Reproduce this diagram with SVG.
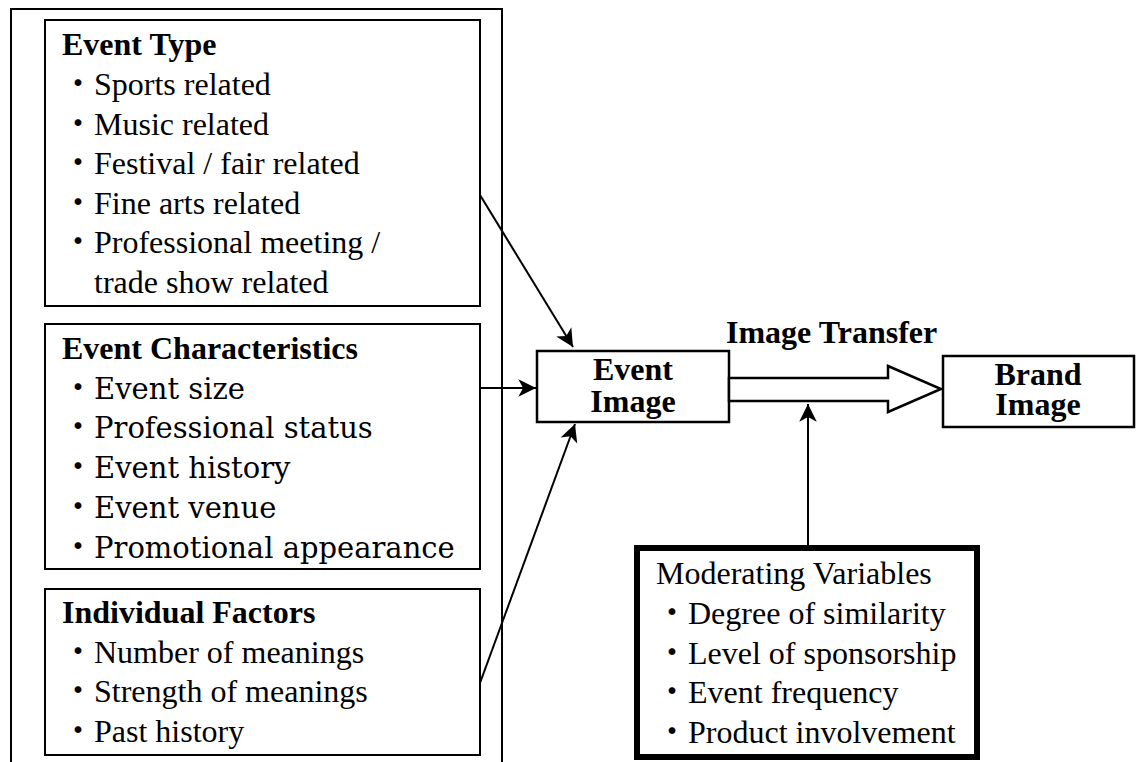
<svg xmlns="http://www.w3.org/2000/svg" width="1140" height="762" viewBox="0 0 1140 762">
<style>
  .box { fill: #fff; stroke: #000; stroke-width: 2; }
  .conn { fill: none; stroke: #000; stroke-width: 2; }
  .h { font-family: "Liberation Serif", "Times New Roman", serif; font-weight: bold; font-size: 32px; fill: #000; }
  .t { font-family: "Liberation Serif", "Times New Roman", serif; font-size: 32px; fill: #000; }
  .c { font-family: "DejaVu Serif", serif; font-size: 29px; fill: #000; }
  .dot { font-family: "Noto Sans CJK JP", sans-serif; font-size: 32px; }
  .mid { text-anchor: middle; }
</style>
<defs>
  <marker id="ah" markerUnits="userSpaceOnUse" markerWidth="20" markerHeight="20" viewBox="-16 -8 17 16" refX="0" refY="0" orient="auto">
    <path d="M0,0 L-15,-7.5 L-11,0 L-15,7.5 Z" fill="#000"/>
  </marker>
</defs>
<rect width="1140" height="762" fill="#fff"/>

<g id="outer">
  <rect class="box" x="11" y="9" width="491" height="800"/>
</g>

<g id="event-type">
  <rect class="box" x="45" y="20" width="435" height="286"/>
  <text class="h" x="62" y="55">Event Type</text>
  <text class="t" x="62" y="95"><tspan class="dot">・</tspan><tspan x="94">Sports related</tspan></text>
  <text class="t" x="62" y="135"><tspan class="dot">・</tspan><tspan x="94">Music related</tspan></text>
  <text class="t" x="62" y="174"><tspan class="dot">・</tspan><tspan x="94">Festival / fair related</tspan></text>
  <text class="t" x="62" y="214"><tspan class="dot">・</tspan><tspan x="94">Fine arts related</tspan></text>
  <text class="t" x="62" y="253"><tspan class="dot">・</tspan><tspan x="94">Professional meeting /</tspan></text>
  <text class="t" x="94" y="293">trade show related</text>
</g>

<g id="event-characteristics">
  <rect class="box" x="45" y="324" width="435" height="245"/>
  <text class="h" x="62" y="359">Event Characteristics</text>
  <text class="c" x="62" y="399"><tspan class="dot">・</tspan><tspan x="94">Event size</tspan></text>
  <text class="c" x="62" y="438"><tspan class="dot">・</tspan><tspan x="94">Professional status</tspan></text>
  <text class="c" x="62" y="478"><tspan class="dot">・</tspan><tspan x="94">Event history</tspan></text>
  <text class="c" x="62" y="518"><tspan class="dot">・</tspan><tspan x="94">Event venue</tspan></text>
  <text class="c" x="62" y="558"><tspan class="dot">・</tspan><tspan x="94">Promotional appearance</tspan></text>
</g>

<g id="individual-factors">
  <rect class="box" x="45" y="589" width="435" height="166"/>
  <text class="h" x="62" y="623">Individual Factors</text>
  <text class="t" x="62" y="663"><tspan class="dot">・</tspan><tspan x="94">Number of meanings</tspan></text>
  <text class="t" x="62" y="702"><tspan class="dot">・</tspan><tspan x="94">Strength of meanings</tspan></text>
  <text class="t" x="62" y="742"><tspan class="dot">・</tspan><tspan x="94">Past history</tspan></text>
</g>

<g id="event-image">
  <rect class="box" x="537" y="351" width="192" height="71" style="stroke-width:2.5"/>
  <text class="h mid" x="633" y="380">Event</text>
  <text class="h mid" x="633" y="412">Image</text>
</g>

<g id="brand-image">
  <rect class="box" x="943" y="356" width="191" height="71" style="stroke-width:2.5"/>
  <text class="h mid" x="1038" y="385">Brand</text>
  <text class="h mid" x="1038" y="415">Image</text>
</g>

<g id="moderating-variables">
  <rect x="637" y="548" width="340" height="209" fill="#fff" stroke="#000" stroke-width="6"/>
  <text class="t" x="656" y="584">Moderating Variables</text>
  <text class="t" x="656" y="624"><tspan class="dot">・</tspan><tspan x="688">Degree of similarity</tspan></text>
  <text class="t" x="656" y="664"><tspan class="dot">・</tspan><tspan x="688">Level of sponsorship</tspan></text>
  <text class="t" x="656" y="703"><tspan class="dot">・</tspan><tspan x="688">Event frequency</tspan></text>
  <text class="t" x="656" y="743"><tspan class="dot">・</tspan><tspan x="688">Product involvement</tspan></text>
</g>

<g id="connectors">
  <line class="conn" x1="480" y1="195" x2="573" y2="347" marker-end="url(#ah)"/>
  <line class="conn" x1="480" y1="388" x2="536" y2="388" marker-end="url(#ah)"/>
  <line class="conn" x1="480" y1="683" x2="575" y2="424" marker-end="url(#ah)"/>
  <line class="conn" x1="808" y1="545" x2="808" y2="404" marker-end="url(#ah)"/>
  <polygon points="729,378 888,378 888,366 941,389 888,412 888,401 729,401" fill="#fff" stroke="#000" stroke-width="2.5" stroke-linejoin="miter"/>
  <text class="h" x="726" y="343">Image Transfer</text>
</g>
</svg>
